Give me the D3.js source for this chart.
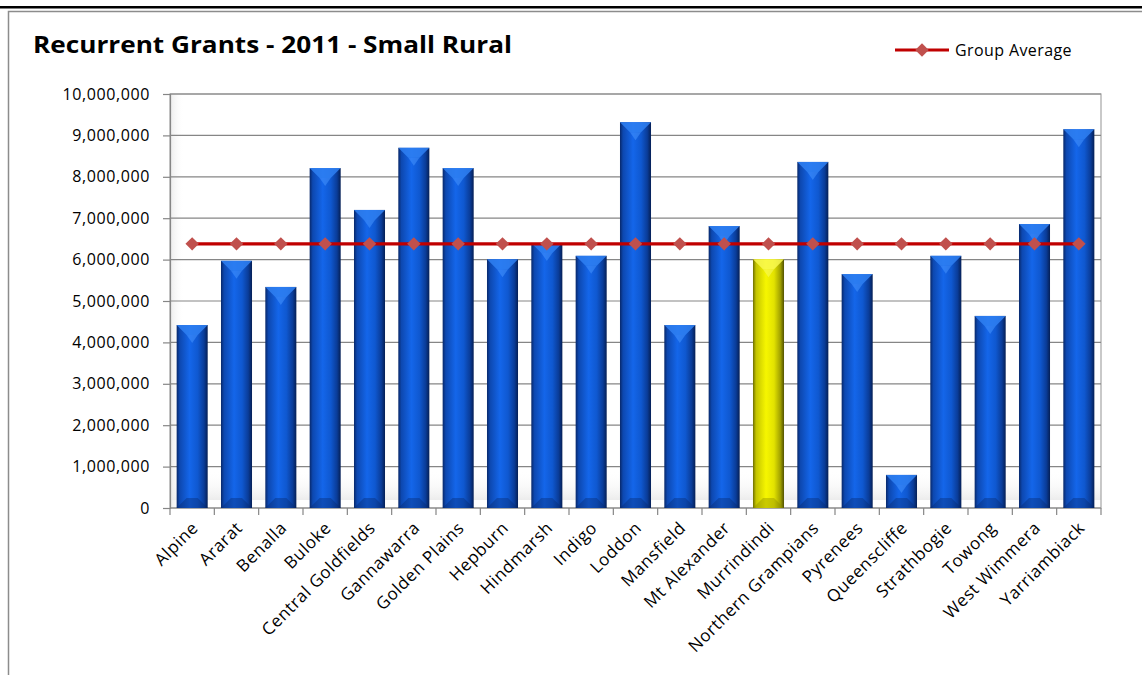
<!DOCTYPE html>
<html><head><meta charset="utf-8">
<script src="https://cdn.jsdelivr.net/npm/d3@7"></script>
<style>
html,body{margin:0;padding:0;background:#fff;}
svg{display:block;}
text{font-family:"Open Sans",sans-serif;fill:#000;}
</style></head>
<body>
<svg id="c" width="1142" height="675"></svg>
<script>
const categories = ["Alpine","Ararat","Benalla","Buloke","Central Goldfields","Gannawarra","Golden Plains","Hepburn","Hindmarsh","Indigo","Loddon","Mansfield","Mt Alexander","Murrindindi","Northern Grampians","Pyrenees","Queenscliffe","Strathbogie","Towong","West Wimmera","Yarriambiack"];
const grants = [4420000,5970000,5340000,8210000,7200000,8700000,8210000,6010000,6400000,6090000,9320000,4420000,6810000,6010000,8360000,5650000,800000,6090000,4640000,6860000,9150000];
const groupAverage = 6380000;
const highlight = "Murrindindi";
const yTicks = [0,1000000,2000000,3000000,4000000,5000000,6000000,7000000,8000000,9000000,10000000];
const titleText = "Recurrent Grants - 2011 - Small Rural";
const legendLabel = "Group Average";

const svg = d3.select("#c");
const W = 1142, H = 675;
const m = {left:170, right:1101, top:94, bottom:508};

// frame
svg.append("rect").attr("x",0).attr("y",6).attr("width",W).attr("height",2.5).attr("fill","#000");
svg.append("rect").attr("x",8.5).attr("y",11.5).attr("width",W).attr("height",H).attr("fill","none").attr("stroke","#8c8c8c").attr("stroke-width",1.5);

const defs = svg.append("defs");
function grad(id, stops, vertical){
  const g = defs.append("linearGradient").attr("id",id).attr("x1","0%").attr("x2",vertical?"0%":"100%").attr("y1","0%").attr("y2",vertical?"100%":"0%");
  stops.forEach(s=>g.append("stop").attr("offset",s[0]).attr("stop-color",s[1]).attr("stop-opacity",s[2]===undefined?1:s[2]));
}
grad("blueG",[["0%","#08286a"],["10%","#0d48b0"],["42%","#1466ea"],["68%","#0f58d0"],["88%","#0a3c98"],["100%","#051f55"]]);
grad("yelG",[["0%","#6e6e00"],["10%","#c4c400"],["42%","#f6f600"],["68%","#e2e200"],["88%","#a2a200"],["100%","#525200"]]);
grad("shadeB",[["0%","#ffffff",0],["100%","#e4e4e4",0.7]],true);
grad("shadeL",[["0%","#e6e6e6",0.8],["100%","#ffffff",0]]);

const x = d3.scaleBand().domain(categories).range([m.left,m.right]).paddingInner(0.3).paddingOuter(0.15);
const y = d3.scaleLinear().domain([0,10000000]).range([m.bottom,m.top]);

// plot area
svg.append("rect").attr("x",m.left).attr("y",m.top).attr("width",m.right-m.left).attr("height",m.bottom-m.top)
  .attr("fill","#fff");
svg.append("rect").attr("x",m.left).attr("y",m.bottom-38).attr("width",m.right-m.left).attr("height",30).attr("fill","url(#shadeB)");
svg.append("rect").attr("x",m.left).attr("y",m.top).attr("width",14).attr("height",m.bottom-m.top).attr("fill","url(#shadeL)");
svg.append("rect").attr("x",m.left).attr("y",m.top).attr("width",m.right-m.left).attr("height",m.bottom-m.top)
  .attr("fill","none").attr("stroke","#a6a6a6").attr("stroke-width",1.2);

// gridlines
svg.append("g").selectAll("line").data(yTicks.slice(1)).join("line")
  .attr("x1",m.left).attr("x2",m.right).attr("y1",d=>y(d)).attr("y2",d=>y(d))
  .attr("stroke","#868686").attr("stroke-width",1.2);

// y axis
const yAxis = d3.axisLeft(y).tickValues(yTicks).tickSize(7).tickPadding(13)
  .tickFormat(d=>d3.format(",")(d));
const ya = svg.append("g").attr("transform",`translate(${m.left},0)`).call(yAxis);
ya.select(".domain").attr("stroke","#868686").attr("stroke-width",1.2);
ya.selectAll(".tick line").attr("stroke","#868686").attr("stroke-width",1.2);
ya.selectAll("text").attr("font-size",16).attr("letter-spacing",0.6).attr("font-family","'Open Sans',sans-serif").attr("fill","#000");

// x axis
const xa = svg.append("g").attr("transform",`translate(0,${m.bottom})`);
xa.append("line").attr("x1",m.left).attr("x2",m.right).attr("stroke","#868686").attr("stroke-width",1.2);
const bounds = d3.range(categories.length+1).map(i=>m.left + i*(m.right-m.left)/categories.length);
xa.selectAll("line.t").data(bounds).join("line").attr("class","t")
  .attr("x1",d=>d).attr("x2",d=>d).attr("y1",0).attr("y2",7).attr("stroke","#868686").attr("stroke-width",1.2);
xa.selectAll("text").data(categories).join("text")
  .attr("transform",d=>`translate(${x(d)+x.bandwidth()/2+7},${21}) rotate(-45)`)
  .attr("text-anchor","end").attr("font-size",17).attr("letter-spacing",0.6).text(d=>d);

// bars
const bw = x.bandwidth();
const bars = svg.append("g").selectAll("g").data(categories.map((c,i)=>({c,v:grants[i]}))).join("g");
bars.append("rect").attr("x",d=>x(d.c)).attr("y",d=>y(d.v)).attr("width",bw).attr("height",d=>y(0)-y(d.v))
  .attr("fill",d=>d.c===highlight?"url(#yelG)":"url(#blueG)");
const bev = 10;
bars.append("path").attr("d",d=>{
  const x0=x(d.c), x1=x0+bw, t=y(d.v);
  return `M${x0},${t}L${x1},${t}L${x1-bev},${t+bev}L${x0+bev},${t+bev}Z`;
}).attr("fill",d=>d.c===highlight?"#f8f850":"#2f80f2").attr("opacity",0.85);
bars.append("path").attr("d",d=>{
  const x0=x(d.c), x1=x0+bw, t=y(d.v), xm=(x0+x1)/2;
  return `M${x0+bev},${t+bev}L${x1-bev},${t+bev}L${xm},${t+bev+8}Z`;
}).attr("fill",d=>d.c===highlight?"#fafa70":"#4a98ff").attr("opacity",0.5);
bars.append("path").attr("d",d=>{
  const x0=x(d.c), x1=x0+bw, b=y(0);
  return `M${x0},${b}L${x1},${b}L${x1-bev},${b-bev}L${x0+bev},${b-bev}Z`;
}).attr("fill",d=>d.c===highlight?"#8a8a00":"#072a70").attr("opacity",0.4);

// average line
const avgData = categories.map(c=>({c,v:groupAverage}));
const line = d3.line().x(d=>x(d.c)+bw/2).y(d=>y(d.v));
svg.append("path").datum(avgData).attr("d",line).attr("fill","none").attr("stroke","#c00000").attr("stroke-width",3.2);
const diamond = d3.symbol().type(d3.symbolDiamond2).size(115);
svg.append("g").selectAll("path").data(avgData).join("path")
  .attr("transform",d=>`translate(${x(d.c)+bw/2},${y(d.v)})`)
  .attr("d",diamond).attr("fill","#c0504d");

// title
svg.append("text").attr("x",33).attr("y",53).attr("font-size",23).attr("font-weight","bold")
  .attr("textLength",479).attr("lengthAdjust","spacingAndGlyphs").text(titleText);

// legend
const lg = svg.append("g").attr("transform","translate(895,50)");
lg.append("line").attr("x1",0).attr("x2",54).attr("stroke","#c00000").attr("stroke-width",3.2);
lg.append("path").attr("transform","translate(27,0)").attr("d",diamond).attr("fill","#c0504d");
lg.append("text").attr("x",60).attr("y",6).attr("font-size",16).attr("letter-spacing",0.4).text(legendLabel);
</script>
</body></html>
